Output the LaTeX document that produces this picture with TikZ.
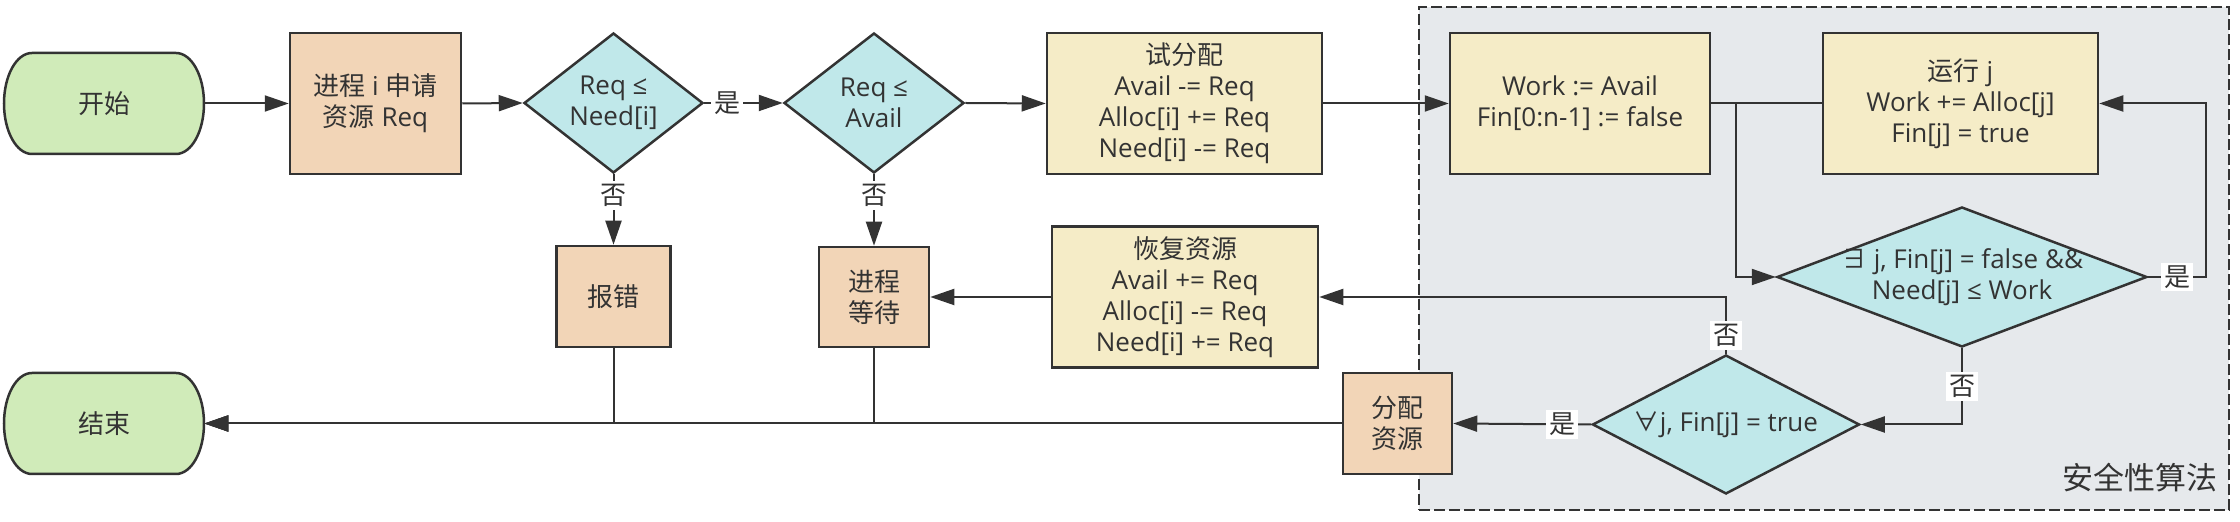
\documentclass[tikz,border=0pt]{standalone}
\usepackage{fontspec}
\setmainfont{Open Sans}
\newfontfamily\cjkf{Noto Sans CJK SC}
\newcommand{\zh}[1]{{\cjkf #1}}
\usetikzlibrary{arrows.meta,shapes.geometric}
\definecolor{lc}{HTML}{333333}
\definecolor{fgreen}{HTML}{D0EBB9}
\definecolor{fpeach}{HTML}{F2D5B7}
\definecolor{fyellow}{HTML}{F5ECC7}
\definecolor{fcyan}{HTML}{C0E8EA}
\definecolor{fregion}{HTML}{E6E9EC}
\newcommand{\termshape}[2]{%
  \filldraw[draw=lc, fill=fgreen, line width=1.25pt]
    ({#1-72},{#2-50.5}) -- ({#1+72},{#2-50.5})
    .. controls ({#1+87.5},{#2-50.5}) and ({#1+100},{#2-28}) .. ({#1+100},{#2})
    .. controls ({#1+100},{#2+28}) and ({#1+87.5},{#2+50.5}) .. ({#1+72},{#2+50.5})
    -- ({#1-72},{#2+50.5})
    .. controls ({#1-87.5},{#2+50.5}) and ({#1-100},{#2+28}) .. ({#1-100},{#2})
    .. controls ({#1-100},{#2-28}) and ({#1-87.5},{#2-50.5}) .. ({#1-72},{#2-50.5})
    -- cycle;}
\begin{document}
\begin{tikzpicture}[x=0.5pt,y=-0.5pt,
  font=\fontsize{13}{15.5}\selectfont, text=lc,
  box/.style={draw=lc, line width=1.25pt, fill=#1, align=center, inner sep=0pt},
  dia/.style={draw=lc, line width=1.25pt, fill=fcyan, diamond, inner sep=0pt},
  dtext/.style={align=center, inner sep=0pt},
  term/.style={rectangle, inner sep=0pt, minimum width=100pt, minimum height=50.5pt},
  line/.style={draw=lc, line width=1pt},
  arr/.style={line, -{Triangle[length=12pt,width=8pt]}},
  lbl/.style={fill=white, inner sep=1.5pt, text=lc},
]
\useasboundingbox (0,0) rectangle (2240,522);

% safety algorithm region
\node[draw=lc, dash pattern=on 5.5pt off 2pt, line width=1pt, fill=fregion,
      minimum width=405pt, minimum height=251.5pt, inner sep=0pt] (region) at (1824,258.5) {};
\node[anchor=east, inner sep=0pt, font=\fontsize{15.5}{18}\selectfont] (regionlbl) at (2218,478) {\zh{安全性算法}};

% terminals
\termshape{104}{103.5}
\node[term] (start) at (104,103.5) {\zh{开始}};
\termshape{104}{423.5}
\node[term] (end) at (104,423.5) {\zh{结束}};

% boxes
\node[box=fpeach, minimum width=85.5pt, minimum height=70.5pt] (req) at (375.5,103.5)
  {\zh{进程} i \zh{申请}\\\zh{资源} Req};
\node[dia, minimum width=89.5pt, minimum height=70pt] (d1) at (613.5,103) {};
\node[dtext] (d1t) at (d1) {Req ≤\\Need[i]};
\node[dia, minimum width=90pt, minimum height=70pt] (d2) at (874,103) {};
\node[dtext] (d2t) at (d2) {Req ≤\\Avail};
\node[box=fyellow, minimum width=137.5pt, minimum height=70.5pt] (try) at (1184.5,103.5)
  {\zh{试分配}\\Avail -= Req\\Alloc[i] += Req\\Need[i] -= Req};
\node[box=fyellow, minimum width=130pt, minimum height=70.5pt] (work) at (1580,103.5)
  {Work := Avail\\Fin[0:n-1] := false};
\node[box=fyellow, minimum width=137.5pt, minimum height=70.5pt] (run) at (1960.5,103.5)
  {\zh{运行} j\\Work += Alloc[j]\\Fin[j] = true};
\node[dia, minimum width=185pt, minimum height=70pt] (d3) at (1962,277) {};
\node[dtext] (d3t) at (d3) {\zh{∃} j, Fin[j] = false \&\&\\Need[j] ≤ Work};
\node[dia, minimum width=133.5pt, minimum height=69.5pt] (d4) at (1726,424.5) {};
\node[dtext] (d4t) at (d4) {\zh{∀}j, Fin[j] = true};
\node[box=fpeach, minimum width=54.5pt, minimum height=50.5pt] (alloc) at (1397.5,423.5)
  {\zh{分配}\\\zh{资源}};
\node[box=fyellow, minimum width=133pt, minimum height=70.5pt] (undo) at (1185,297)
  {\zh{恢复资源}\\Avail += Req\\Alloc[i] -= Req\\Need[i] += Req};
\node[box=fpeach, minimum width=55pt, minimum height=50pt] (wait) at (874,297)
  {\zh{进程}\\\zh{等待}};
\node[box=fpeach, minimum width=57pt, minimum height=50.5pt] (err) at (613.5,296.5)
  {\zh{报错}};

% connectors
\draw[arr] (start.east) -- (req.west);
\draw[arr] (req.east) -- (d1.west);
\draw[arr] (d1.east) -- node[lbl, pos=0.29] {\zh{是}} (d2.west);
\draw[arr] (d2.east) -- (try.west);
\draw[arr] (try.east) -- (work.west);
\draw[arr] (d1.south) -- node[lbl, pos=0.3] {\zh{否}} (err.north);
\draw[arr] (d2.south) -- node[lbl, pos=0.3] {\zh{否}} (wait.north);
\coordinate (split) at (1736,103.5);
\draw[arr] (work.east) -- (split) |- (d3.west);
\draw[line] (run.west) -- (split);
\coordinate (rloop) at (2206,277);
\draw[arr] (d3.east) -- node[lbl] {\zh{是}} (d3.east -| rloop) |- (run.east);
\draw[arr] (d3.south) |- node[lbl, pos=0.25] {\zh{否}} (d4.east);
\draw[arr] (d4.north) |- node[lbl, pos=0.16] {\zh{否}} (undo.east);
\draw[arr] (d4.west) -- node[lbl, pos=0.21] {\zh{是}} (alloc.east);
\draw[arr] (undo.west) -- (wait.east);
\draw[arr] (alloc.west) -- (end.east);
\draw[arr] (err.south) |- (end.east);
\draw[arr] (wait.south) |- (end.east);
\end{tikzpicture}
\end{document}
